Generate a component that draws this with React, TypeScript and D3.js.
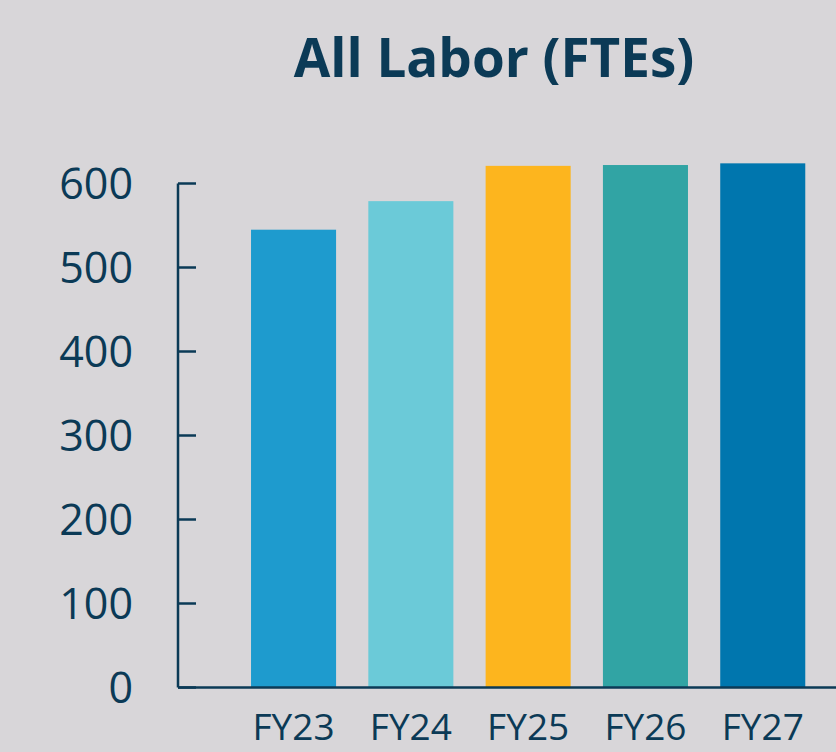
import React, { useEffect } from 'react';
import * as d3 from 'd3';

// Data
const categories = ['FY23', 'FY24', 'FY25', 'FY26', 'FY27'];
const values = [545, 579, 621, 622, 624];
const barColors = ['#1e9bce', '#6bcad8', '#fdb51e', '#31a4a4', '#0076ae'];
const yTicks = [0, 100, 200, 300, 400, 500, 600];
const title = 'All Labor (FTEs)';

export default function App() {
    useEffect(() => {
        document.body.style.margin = '0';
    }, []);

    const width = 836;
    const height = 752;
    const navy = '#0b3a56';
    const font = '"Open Sans", sans-serif';

    const y = d3.scaleLinear().domain([0, 600]).range([687.5, 183.5]);
    const x = d3.scaleBand<string>()
        .domain(categories)
        .range([234.9, 821.4])
        .paddingInner(0.275)
        .paddingOuter(0.1375);

    const axisX = 178;

    return (
        <svg width={width} height={height} style={{ display: 'block', background: '#d8d6d9' }}>
            <rect width={width} height={height} fill="#d8d6d9" />
            <text x={494} y={77} textAnchor="middle" fill={navy}
                style={{ fontFamily: font, fontWeight: 700, fontSize: 53 }}>{title}</text>

            {/* bars */}
            {categories.map((c, i) => (
                <rect key={c} x={x(c)} y={y(values[i])} width={x.bandwidth()}
                    height={y(0) - y(values[i])} fill={barColors[i]} />
            ))}

            {/* y axis */}
            <line x1={axisX} x2={axisX} y1={y(600)} y2={y(0)} stroke={navy} strokeWidth={2.5} />
            {yTicks.map(t => (
                <g key={t}>
                    <line x1={axisX} x2={196} y1={y(t)} y2={y(t)} stroke={navy} strokeWidth={2.5} />
                    <text x={133} y={y(t)} dy="0.36em" textAnchor="end" fill={navy}
                        style={{ fontFamily: font, fontSize: 43 }}>{t}</text>
                </g>
            ))}

            {/* x axis */}
            <line x1={axisX} x2={width} y1={y(0)} y2={y(0)} stroke={navy} strokeWidth={2.5} />
            {categories.map(c => (
                <text key={c} x={(x(c) ?? 0) + x.bandwidth() / 2} y={740} textAnchor="middle" fill={navy}
                    style={{ fontFamily: font, fontSize: 37 }}>{c}</text>
            ))}
        </svg>
    );
}
